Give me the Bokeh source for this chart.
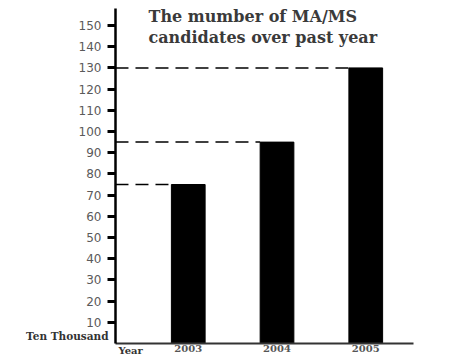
from bokeh.plotting import figure
from bokeh.models import ColumnDataSource, FixedTicker, Label, Range1d, LinearAxis
from bokeh.embed import file_html
from bokeh.resources import INLINE

years = [2003, 2004, 2005]
values = [75, 95, 130]
y_ticks = [10, 20, 30, 40, 50, 60, 70, 80, 90, 100, 110, 120, 130, 140, 150]
title_lines = ["The mumber of MA/MS", "candidates over past year"]
x_axis_name = "Year"
y_axis_name = "Ten Thousand"

bar_w = 0.38
# view ranges (frame = whole figure), axes placed inside at fixed locations
x_start, x_end = 2000.8845, 2005.921
y_start, y_end = -6.13, 161.8
axis_x = 2002.18          # where the value axis stands
x_axis_end = 2005.54      # end of the category axis line
y_axis_top = 158          # top of the value axis line

p = figure(width=447, height=356, output_backend="svg", toolbar_location=None,
           x_range=Range1d(x_start, x_end), y_range=Range1d(y_start, y_end),
           x_axis_location=None, y_axis_location=None,
           min_border_left=0, min_border_right=0, min_border_top=0, min_border_bottom=0)
p.outline_line_color = None
p.background_fill_color = "white"
p.border_fill_color = "white"
p.grid.visible = False

src = ColumnDataSource(dict(x=years, top=values,
                            x0=[axis_x] * len(years),
                            x1=[y - bar_w / 2 for y in years]))
p.vbar(x="x", top="top", bottom=0, width=bar_w, source=src, fill_color="black", line_color="black")
p.segment(x0="x0", y0="top", x1="x1", y1="top", source=src,
          line_color="black", line_width=1.5, line_dash="13 7")

# value axis
ya = LinearAxis(fixed_location=axis_x, bounds=(0, y_axis_top), ticker=FixedTicker(ticks=y_ticks))
ya.axis_line_width = 2.5
ya.axis_line_color = "black"
ya.major_tick_line_width = 3
ya.major_tick_line_color = "black"
ya.major_tick_in = 0
ya.major_tick_out = 8
ya.minor_tick_line_color = None
ya.major_label_text_font = "DejaVu Sans"
ya.major_label_text_font_size = "12px"
ya.major_label_text_color = "#5a5a5a"
ya.major_label_standoff = 6
p.add_layout(ya, "left")

# category axis
xa = LinearAxis(fixed_location=0, bounds=(axis_x, x_axis_end), ticker=FixedTicker(ticks=years))
xa.major_label_overrides = {y: str(y) for y in years}
xa.axis_line_width = 2
xa.axis_line_color = "#333333"
xa.major_tick_in = 0
xa.major_tick_out = 0
xa.minor_tick_line_color = None
xa.major_label_text_font = "DejaVu Serif"
xa.major_label_text_font_size = "10px"
xa.major_label_text_font_style = "bold"
xa.major_label_text_color = "#555555"
xa.major_label_standoff = 1
p.add_layout(xa, "below")

lab_style = dict(text_font="DejaVu Serif", text_font_style="bold", text_color="#333333")
p.add_layout(Label(x=axis_x, y=0, x_offset=3, y_offset=-7, text=x_axis_name,
                   text_font_size="10px", text_baseline="middle", text_align="left", **lab_style))
p.add_layout(Label(x=axis_x, y=0, x_offset=-7, y_offset=2, text=y_axis_name,
                   text_font_size="10.5px", text_baseline="bottom", text_align="right", **lab_style))

for i, line in enumerate(title_lines):
    p.add_layout(Label(x=axis_x, y=y_end, x_offset=33, y_offset=-6 - 21 * i, text=line,
                       text_font="DejaVu Serif", text_font_size="16px", text_font_style="bold",
                       text_color="#3a3a3a", text_baseline="top", text_align="left"))

open("out.html", "w").write(file_html(p, INLINE))
